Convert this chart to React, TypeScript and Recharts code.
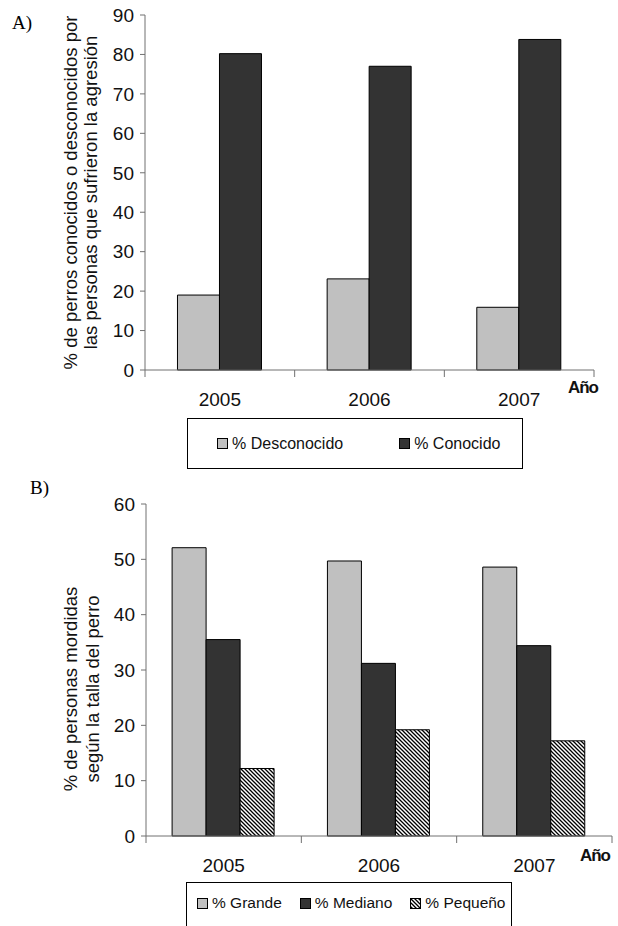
import React from 'react';
import { BarChart, Bar, XAxis, YAxis, Label } from 'recharts';

const years = ['2005', '2006', '2007'];

// A) conocidos / desconocidos
const desconocido = [19.0, 23.1, 15.9];
const conocido = [80.2, 77.0, 83.8];
const ticksA = [0, 10, 20, 30, 40, 50, 60, 70, 80, 90];

// B) talla del perro
const grande = [52.1, 49.7, 48.6];
const mediano = [35.5, 31.2, 34.4];
const pequeno = [12.2, 19.2, 17.2];
const ticksB = [0, 10, 20, 30, 40, 50, 60];

const seriesA = [
  { key: 'desconocido', name: '% Desconocido', fill: '#C0C0C0' },
  { key: 'conocido', name: '% Conocido', fill: '#333333' },
];
const seriesB = [
  { key: 'grande', name: '% Grande', fill: '#C0C0C0' },
  { key: 'mediano', name: '% Mediano', fill: '#333333' },
  { key: 'pequeno', name: '% Pequeño', fill: 'url(#hatch)' },
];

const dataA = years.map((y, i) => ({ year: y, desconocido: desconocido[i], conocido: conocido[i] }));
const dataB = years.map((y, i) => ({ year: y, grande: grande[i], mediano: mediano[i], pequeno: pequeno[i] }));

const FONT = '"Liberation Sans", Arial, sans-serif';
const AXIS = '#707070';

// category label in the middle, tick marks on the category borders
const YearTick = ({ x, y, payload, index, bw, count, dy }: any) => (
  <g>
    <line x1={x - bw / 2} x2={x - bw / 2} y1={y} y2={y + 7} stroke={AXIS} />
    {index === count - 1 && <line x1={x + bw / 2} x2={x + bw / 2} y1={y} y2={y + 7} stroke={AXIS} />}
    <text x={x} y={y + dy} textAnchor="middle" dominantBaseline="central" fontSize={19} fill="#111" fontFamily={FONT}>
      {payload.value}
    </text>
  </g>
);

const YTitle = ({ viewBox, lines, dx1, dx2, dy }: any) => {
  const cy = viewBox.y + viewBox.height / 2 + dy;
  const xs = [viewBox.x + dx1, viewBox.x + dx2];
  return (
    <g>
      {lines.map((t: string, i: number) => (
        <text key={i} x={xs[i]} y={cy} transform={`rotate(-90, ${xs[i]}, ${cy})`} textAnchor="middle"
          dominantBaseline="central" fontSize={18.5} fill="#111" fontFamily={FONT}>{t}</text>
      ))}
    </g>
  );
};

const AnoLabel = ({ viewBox, dx, dy }: any) => (
  <text x={viewBox.x + viewBox.width + dx} y={viewBox.y + dy} textAnchor="end" dominantBaseline="central"
    fontSize={17} fontWeight="bold" letterSpacing={-1} fill="#111" fontFamily={FONT}>Año</text>
);

const Swatch = ({ fill }: { fill: string }) => (
  <svg width={11} height={11} style={{ marginRight: 4, flex: 'none' }}>
    <rect x={0.5} y={0.5} width={10} height={10} fill={fill} stroke="#000" />
  </svg>
);

const LegendBox = ({ items, style, gap, pad, padTop }: any) => (
  <div style={{
    position: 'absolute', border: '1px solid #000', boxSizing: 'border-box', display: 'flex',
    alignItems: padTop == null ? 'center' : 'flex-start', paddingTop: padTop ?? 0,
    fontFamily: FONT, fontSize: 16, color: '#111', paddingLeft: pad, gap, whiteSpace: 'nowrap', ...style,
  }}>
    {items.map((s: any) => (
      <div key={s.key} style={{ display: 'flex', alignItems: 'center', flex: 'none' }}>
        <Swatch fill={s.fill} />
        <span>{s.name}</span>
      </div>
    ))}
  </div>
);

export default function App() {
  const bwA = (594 - 145) / years.length;
  const bwB = (612 - 146) / years.length;
  return (
    <div style={{ position: 'absolute', left: 0, top: 0, width: 618, height: 926, background: '#fff', overflow: 'hidden' }}>
      <svg width={0} height={0} style={{ position: 'absolute' }}>
        <defs>
          <pattern id="hatch" patternUnits="userSpaceOnUse" width={4} height={4}>
            <rect width={4} height={4} fill="#fff" />
            <path d="M-1,-1 L5,5 M-1,3 L1,5 M3,-1 L5,1" stroke="#000" strokeWidth={1.3} />
          </pattern>
        </defs>
      </svg>

      <div style={{ position: 'absolute', left: 12, top: 12, fontFamily: '"Liberation Serif", serif', fontSize: 19 }}>A)</div>
      <div style={{ position: 'absolute', left: 30, top: 477, fontFamily: '"Liberation Serif", serif', fontSize: 19 }}>B)</div>

      <div style={{ position: 'absolute', left: 0, top: 0 }}>
        <BarChart width={618} height={420} data={dataA} margin={{ top: 15, right: 24, bottom: 0, left: 95 }}
          barCategoryGap="21.7%" barGap={0}>
          <XAxis dataKey="year" height={50} stroke={AXIS} tickLine={false} tickSize={0} tickMargin={0}
            interval={0} tick={<YearTick bw={bwA} count={years.length} dy={29} />}>
            <Label content={<AnoLabel dx={4} dy={17} />} />
          </XAxis>
          <YAxis width={50} domain={[0, 90]} ticks={ticksA} stroke={AXIS} tickSize={5} tickMargin={6}
            tick={{ fontSize: 19, fill: '#111', fontFamily: FONT }} interval={0}>
            <Label content={<YTitle lines={['% de perros conocidos o desconocidos por', 'las personas que sufrieron la agresión']}
              dx1={-25} dx2={-5} dy={0} />} />
          </YAxis>
          {seriesA.map((s) => (
            <Bar key={s.key} dataKey={s.key} name={s.name} fill={s.fill} stroke="#000" strokeWidth={1} isAnimationActive={false} />
          ))}
        </BarChart>
      </div>

      <LegendBox items={seriesA} pad={29} gap={56} style={{ left: 187, top: 418, width: 336, height: 51 }} />

      <div style={{ position: 'absolute', left: 0, top: 420 }}>
        <BarChart width={618} height={456} data={dataB} margin={{ top: 84, right: 6, bottom: 0, left: 96 }}
          barCategoryGap="16.8%" barGap={0}>
          <XAxis dataKey="year" height={40} stroke={AXIS} tickLine={false} tickSize={0} tickMargin={0}
            interval={0} tick={<YearTick bw={bwB} count={years.length} dy={29} />}>
            <Label content={<AnoLabel dx={-2} dy={19} />} />
          </XAxis>
          <YAxis width={50} domain={[0, 60]} ticks={ticksB} stroke={AXIS} tickSize={5} tickMargin={6}
            tick={{ fontSize: 19, fill: '#111', fontFamily: FONT }} interval={0}>
            <Label content={<YTitle lines={['% de personas mordidas', 'según la talla del perro']}
              dx1={-26} dx2={-4} dy={19} />} />
          </YAxis>
          {seriesB.map((s) => (
            <Bar key={s.key} dataKey={s.key} name={s.name} fill={s.fill} stroke="#000" strokeWidth={1} isAnimationActive={false} />
          ))}
        </BarChart>
      </div>

      <LegendBox items={seriesB} pad={10} gap={18} padTop={11}
        style={{ left: 186, top: 882, width: 326, height: 60, fontSize: 15.5 }} />
    </div>
  );
}
